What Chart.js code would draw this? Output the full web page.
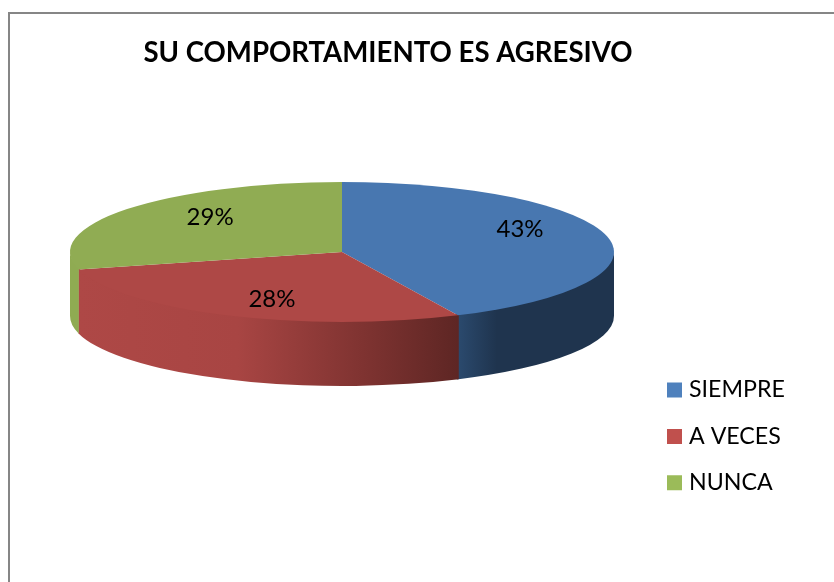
<!DOCTYPE html>
<html><head><meta charset="utf-8">
<style>html,body{margin:0;padding:0;background:#fff}canvas{display:block}</style>
<script src="https://cdn.jsdelivr.net/npm/chart.js@4"></script>
</head><body>
<div style="width:834px;height:582px"><canvas id="c" width="834" height="582"></canvas></div>
<script>
const categories = ['SIEMPRE', 'A VECES', 'NUNCA'];
const values = [43, 28, 29];
const titleText = 'SU COMPORTAMIENTO ES AGRESIVO';
const faceColors = ['#4877B0', '#AE4846', '#90AC53'];
const legendColors = ['#4F81BD', '#C0504D', '#9BBB59'];
const wallStops = [
  [[0, '#2B4A6E'], [0.25, '#1F344E'], [1, '#1F344E']],
  [[0, '#AE4846'], [0.42, '#A84543'], [0.75, '#7F3331'], [1, '#5E2624']],
  [[0, '#8FAB52'], [1, '#8FAB52']]
];
const labelNudge = [[1.5, -15.4], [7, 15.5], [11, -13.5]];
const STRETCH = 272 / 252, SQUASH = 70 / 252, DEPTH = 64;

function wallSpan(a0, a1) {
  const norm = a => ((a % (2 * Math.PI)) + 2 * Math.PI) % (2 * Math.PI);
  const s = norm(a0), e = s + (a1 - a0), out = [];
  for (const [lo, hi] of [[0, Math.PI], [2 * Math.PI, 3 * Math.PI]]) {
    const p = Math.max(s, lo), q = Math.min(e, hi);
    if (q > p) out.push([p, q]);
  }
  return out;
}

const pie3d = {
  id: 'pie3d',
  afterLayout(chart) {
    const l = chart.legend;
    l.left = 648.4; l.right = 830; l.top = 355.2; l.bottom = 520;
    const t = chart.titleBlock;
    t.left = 0; t.right = 776; t.top = 37; t.bottom = 71;
  },
  beforeDraw(chart) {
    const c = chart.ctx;
    c.save();
    c.fillStyle = '#fff'; c.fillRect(0, 0, 834, 582);
    c.strokeStyle = '#868686'; c.lineWidth = 2;
    c.beginPath(); c.moveTo(9, 582); c.lineTo(9, 13); c.lineTo(834, 13);
    c.stroke();
    c.restore();
  },
  beforeDatasetsDraw(chart) {
    const c = chart.ctx, arcs = chart.getDatasetMeta(0).data;
    arcs.forEach((arc, i) => {
      const { x, y, outerRadius, startAngle, endAngle } = arc;
      const rx = outerRadius * STRETCH, ry = outerRadius * SQUASH;
      wallSpan(startAngle, endAngle).forEach(([p, q]) => {
        const x0 = x + rx * Math.cos(p), x1 = x + rx * Math.cos(q);
        const g = c.createLinearGradient(Math.min(x0, x1), 0, Math.max(x0, x1), 0);
        wallStops[i].forEach(([o, col]) => g.addColorStop(o, col));
        c.beginPath();
        c.ellipse(x, y - 1.5, rx, ry, 0, p - 0.004, q + 0.004);
        c.ellipse(x, y + DEPTH, rx, ry, 0, q + 0.004, p - 0.004, true);
        c.closePath();
        c.fillStyle = g; c.fill();
      });
    });
    const a = arcs[0];
    c.save();
    c.translate(a.x, a.y); c.scale(STRETCH, SQUASH); c.translate(-a.x, -a.y);
  },
  afterDatasetsDraw(chart) {
    const c = chart.ctx;
    c.restore();
    const total = values.reduce((s, v) => s + v, 0);
    chart.getDatasetMeta(0).data.forEach((arc, i) => {
      const p = arc.getCenterPoint();
      c.save();
      c.fillStyle = '#000';
      c.font = '24px Lato';
      c.textAlign = 'center'; c.textBaseline = 'middle';
      const lx = arc.x + (p.x - arc.x) * STRETCH * 1.33 + labelNudge[i][0];
      const ly = arc.y + (p.y - arc.y) * SQUASH + labelNudge[i][1];
      c.fillText(Math.round(values[i] / total * 100) + '%', lx, ly);
      c.restore();
    });
  }
};

new Chart(document.getElementById('c'), {
  type: 'pie',
  data: { labels: categories, datasets: [{ data: values, backgroundColor: faceColors, borderWidth: 0, hoverOffset: 0, clip: false }] },
  options: {
    responsive: false, animation: false, events: [],
    layout: { padding: { left: 70, right: 220, top: -33.12, bottom: 78 } },
    plugins: {
      tooltip: { enabled: false },
      title: { display: true, text: titleText, align: 'center', color: '#000',
        font: { family: 'Lato', size: 27.6, weight: 'bold', lineHeight: 1.2 }, padding: 0 },
      legend: { position: 'chartArea', align: 'start',
        labels: { font: { family: 'Lato', size: 23.2, lineHeight: 1.2 }, color: '#000', boxWidth: 5.8, boxHeight: 5.8, padding: 23.2,
          generateLabels: () => categories.map((t, i) => ({ text: t, fillStyle: legendColors[i], strokeStyle: legendColors[i], lineWidth: 9.2, lineJoin: 'miter', index: i, hidden: false })) } }
    }
  },
  plugins: [pie3d]
});
</script>
</body></html>
